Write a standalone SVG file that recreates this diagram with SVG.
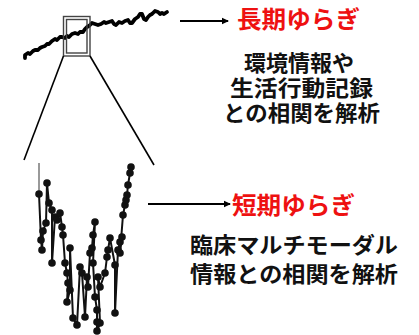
<svg xmlns="http://www.w3.org/2000/svg" width="419" height="335" viewBox="0 0 419 335">
<defs>
<style>
.red{font-family:"Liberation Sans","Noto Sans CJK JP",sans-serif;font-weight:bold;fill:#ee1111;font-size:24px}
.blk{font-family:"Liberation Sans","Noto Sans CJK JP",sans-serif;font-weight:bold;fill:#111;font-size:22px}
.ln{stroke:#000;stroke-width:1.6;fill:none}
.arr{stroke:#000;stroke-width:2;fill:none;marker-end:url(#ah)}
.dot circle{fill:#111}
</style>
<marker id="ah" markerWidth="8" markerHeight="8" refX="6" refY="4" orient="auto" markerUnits="userSpaceOnUse">
<path d="M0,0.8 L7,4 L0,7.2 Z" fill="#000"/>
</marker>
</defs>
<rect width="419" height="335" fill="#fff"/>
<g id="long-trace">
<path d="M25,58 L25,55 L28,53 L30,54 L33,51 L35,50 L38,50 L40,48 L42,47 L45,46 L47,44 L49,44 L52,41 L55,39 L57,40 L60,37 L62,37 L65,38 L67,36 L69,37 L72,34 L75,33 L78,34 L80,32 L83,32 L85,29 L87,27 L89,26 L92,23 L95,24 L98,25 L101,24 L104,22 L106,23 L109,22 L112,21 L114,24 L116,25 L119,22 L122,23 L125,21 L128,20 L130,23 L132,23 L135,19 L138,17 L140,14 L142,14 L144,19 L146,20 L148,17 L150,15 L152,14 L155,11 L158,12 L160,14 L162,13 L164,14 L167,12" fill="none" stroke="#000" stroke-width="3.8" stroke-linejoin="round" stroke-linecap="round"/>
</g>
<g id="zoom-box">
<rect x="63.5" y="16.5" width="26.5" height="39.5" fill="none" stroke="#444" stroke-width="1.4"/>
<rect x="66.5" y="19.5" width="20.5" height="33.5" fill="none" stroke="#444" stroke-width="1.4"/>
</g>
<g id="connectors">
<line class="ln" x1="63.5" y1="56" x2="24" y2="160"/>
<line class="ln" x1="90" y1="56" x2="154" y2="165"/>
<line class="arr" x1="180" y1="21" x2="228" y2="21"/>
<line class="arr" x1="148" y1="204" x2="230" y2="204"/>
</g>
<g id="short-trace">
<line x1="39" y1="163" x2="39" y2="196" stroke="#777" stroke-width="1.5"/>
<polyline fill="none" stroke="#111" stroke-width="2" stroke-linejoin="round" points="39,194 41,240 42,250 43,231 46,223 47,183 49,203 52,210 52,263 55,217 57,220 60,213 62,227 63,235 65,263 67,273 68,283 67,302 70,290 70,248 73,318 77,325 80,267 82,273 85,317 87,277 88,287 90,253 92,248 93,235 95,222 93,263 95,297 97,310 97,322 97,332 100,323 98,277 100,287 105,273 107,257 108,250 110,238 115,265 115,313 118,250 120,242 122,237 120,253 123,215 125,205 126,200 127,195 128,185 130,173 131,167"/>
<g class="dot">
<circle cx="39" cy="194" r="3.8"/><circle cx="41" cy="240" r="3.8"/><circle cx="42" cy="250" r="3.8"/><circle cx="43" cy="231" r="3.8"/><circle cx="46" cy="223" r="3.8"/><circle cx="47" cy="183" r="3.8"/><circle cx="49" cy="203" r="3.8"/><circle cx="52" cy="210" r="3.8"/><circle cx="52" cy="263" r="3.8"/><circle cx="55" cy="217" r="3.8"/><circle cx="57" cy="220" r="3.8"/><circle cx="60" cy="213" r="3.8"/><circle cx="62" cy="227" r="3.8"/><circle cx="63" cy="235" r="3.8"/><circle cx="65" cy="263" r="3.8"/><circle cx="67" cy="273" r="3.8"/><circle cx="68" cy="283" r="3.8"/><circle cx="67" cy="302" r="3.8"/><circle cx="70" cy="290" r="3.8"/><circle cx="70" cy="248" r="3.8"/><circle cx="73" cy="318" r="3.8"/><circle cx="77" cy="325" r="3.8"/><circle cx="80" cy="267" r="3.8"/><circle cx="82" cy="273" r="3.8"/><circle cx="85" cy="317" r="3.8"/><circle cx="87" cy="277" r="3.8"/><circle cx="88" cy="287" r="3.8"/><circle cx="90" cy="253" r="3.8"/><circle cx="92" cy="248" r="3.8"/><circle cx="93" cy="235" r="3.8"/><circle cx="95" cy="222" r="3.8"/><circle cx="93" cy="263" r="3.8"/><circle cx="95" cy="297" r="3.8"/><circle cx="97" cy="310" r="3.8"/><circle cx="97" cy="322" r="3.8"/><circle cx="97" cy="331" r="3.8"/><circle cx="100" cy="323" r="3.8"/><circle cx="98" cy="277" r="3.8"/><circle cx="100" cy="287" r="3.8"/><circle cx="105" cy="273" r="3.8"/><circle cx="107" cy="257" r="3.8"/><circle cx="108" cy="250" r="3.8"/><circle cx="110" cy="238" r="3.8"/><circle cx="115" cy="265" r="3.8"/><circle cx="115" cy="313" r="3.8"/><circle cx="118" cy="250" r="3.8"/><circle cx="120" cy="242" r="3.8"/><circle cx="122" cy="237" r="3.8"/><circle cx="120" cy="253" r="3.8"/><circle cx="123" cy="215" r="3.8"/><circle cx="125" cy="205" r="3.8"/><circle cx="126" cy="200" r="3.8"/><circle cx="127" cy="195" r="3.8"/><circle cx="128" cy="185" r="3.8"/><circle cx="130" cy="173" r="3.8"/><circle cx="131" cy="167" r="3.8"/>
</g>
</g>
<g id="long-label">
<text class="red" x="237" y="28" textLength="123" lengthAdjust="spacingAndGlyphs">長期ゆらぎ</text>
<text class="blk" x="299" y="71" text-anchor="middle">環境情報や</text>
<text class="blk" x="230" y="96" textLength="143" lengthAdjust="spacingAndGlyphs">生活行動記録</text>
<text class="blk" x="223" y="121" textLength="157" lengthAdjust="spacingAndGlyphs">との相関を解析</text>
</g>
<g id="short-label">
<text class="red" x="232" y="214" textLength="123" lengthAdjust="spacingAndGlyphs">短期ゆらぎ</text>
<text class="blk" x="190" y="253" textLength="208" lengthAdjust="spacingAndGlyphs">臨床マルチモーダル</text>
<text class="blk" x="190" y="282" textLength="208" lengthAdjust="spacingAndGlyphs">情報との相関を解析</text>
</g>
</svg>
